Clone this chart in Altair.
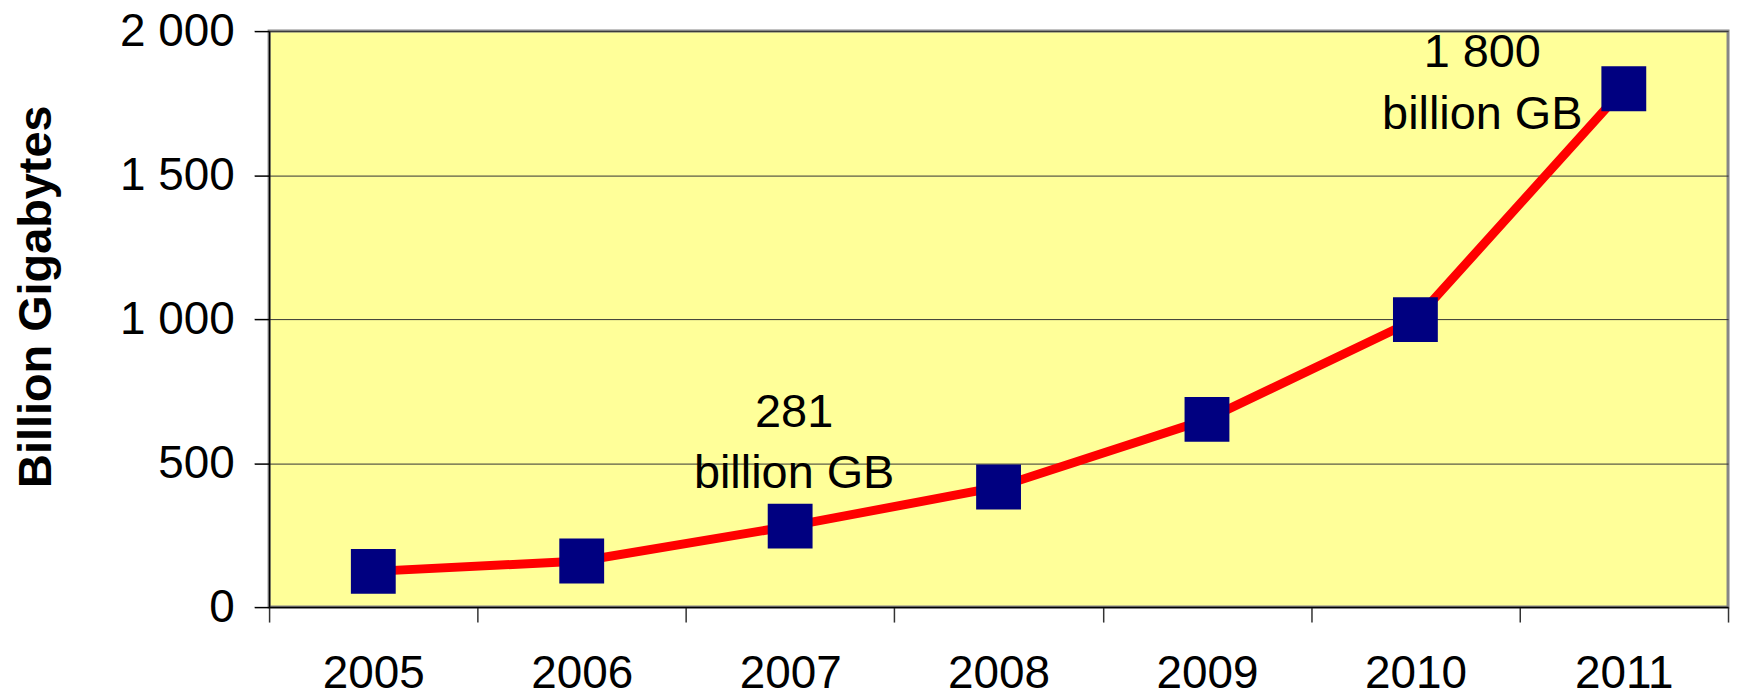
import altair as alt
import pandas as pd

# ---- data ----
years = ["2005", "2006", "2007", "2008", "2009", "2010", "2011"]
values = [124, 160, 281, 417, 652, 998, 1800]

ann1_year = ["2007"]
ann1_value = [281]
ann1_text = ["281\nbillion GB"]

ann2_year = ["2011"]
ann2_value = [1800]
ann2_text = ["1 800\nbillion GB"]

y_ticks = [0, 500, 1000, 1500, 2000]

FONT = "Liberation Sans"

df = pd.DataFrame({"year": years, "value": values})
ann1 = pd.DataFrame({"year": ann1_year, "value": ann1_value, "label": ann1_text})
ann2 = pd.DataFrame({"year": ann2_year, "value": ann2_value, "label": ann2_text})

x_enc = alt.X(
    "year:O",
    scale=alt.Scale(type="band", paddingInner=0, paddingOuter=0, domain=years),
    bandPosition=0.5,
    axis=alt.Axis(
        title=None, labelAngle=0, labelFontSize=46, labelFont=FONT, labelColor="#000",
        labelPadding=30, tickSize=15, tickBand="extent", tickColor="#333", tickWidth=1.5,
        domainColor="#000", domainWidth=1.5, grid=False,
    ),
)
y_enc = alt.Y(
    "value:Q",
    scale=alt.Scale(domain=[0, 2000], nice=False),
    axis=alt.Axis(
        values=y_ticks, title="Billion Gigabytes", titleFont=FONT, titleFontSize=47,
        titleFontWeight="bold", titleColor="#000", titleAngle=270, titleX=-219, titleY=266,
        titleAlign="center", titleBaseline="alphabetic",
        labelFont=FONT, labelFontSize=46, labelColor="#000", labelPadding=20,
        labelExpr="replace(format(datum.value, ','), ',', ' ')",
        tickSize=15, tickColor="#000", tickWidth=1.5, domainColor="#000", domainWidth=1.5,
        grid=True, gridColor="#333333", gridWidth=1,
    ),
)

base = alt.Chart(df).encode(x=x_enc, y=y_enc)
line = base.mark_line(color="#FF0000", strokeWidth=9)
pts = base.mark_point(shape="square", size=2025, filled=True, color="#000080", opacity=1)

t1 = alt.Chart(ann1).mark_text(
    font=FONT, fontSize=47, color="#000", align="center", baseline="alphabetic",
    lineBreak="\n", lineHeight=62, dx=4, dy=-100,
).encode(x=alt.X("year:O", bandPosition=0.5), y="value:Q", text="label:N")

t2 = alt.Chart(ann2).mark_text(
    font=FONT, fontSize=47, color="#000", align="center", baseline="alphabetic",
    lineBreak="\n", lineHeight=62, dx=-142, dy=-22,
).encode(x=alt.X("year:O", bandPosition=0.5), y="value:Q", text="label:N")

chart = (
    alt.layer(line, pts, t1, t2)
    .properties(
        width=1464, height=578,
        autosize=alt.AutoSizeParams(type="none"),
        padding={"left": 262, "top": 22, "right": 8, "bottom": 84},
        background="#ffffff",
    )
    .configure_view(fill="#FFFF99", stroke="#868686", strokeWidth=3)
)

chart.save("out.html", embed_options={"renderer": "svg", "actions": False})
